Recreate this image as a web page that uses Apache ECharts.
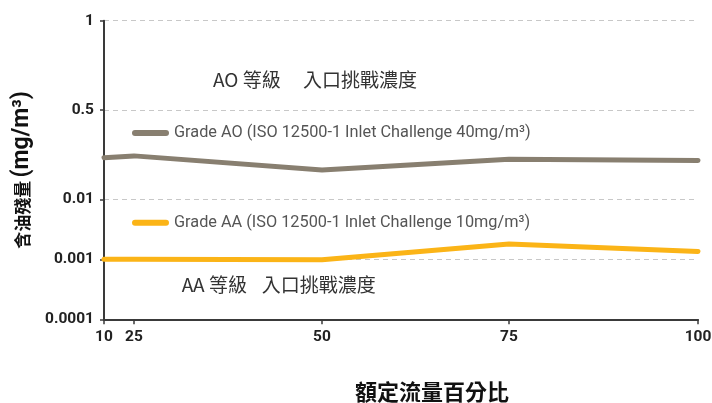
<!DOCTYPE html>
<html>
<head>
<meta charset="utf-8">
<script src="https://cdn.jsdelivr.net/npm/echarts@6/dist/echarts.min.js"></script>
<style>
  html, body { margin: 0; padding: 0; background: #ffffff; }
  #chart { width: 712px; height: 403px; }
</style>
</head>
<body>
<div id="chart"></div>
<script>
// ---- data ----
const flowPct = [10, 25, 50, 75, 100];
const gradeAO = [0.062, 0.067, 0.036, 0.058, 0.055];
const gradeAA = [0.001, 0.001, 0.00098, 0.0018, 0.00135];
const xTickValues = [10, 25, 50, 75, 100];
const yTickValues = [0.0001, 0.001, 0.01, 0.5, 1];
const yTickLabels = ['0.0001', '0.001', '0.01', '0.5', '1'];
const seriesNames = [
  'Grade AO (ISO 12500-1 Inlet Challenge 40mg/m³)',
  'Grade AA (ISO 12500-1 Inlet Challenge 10mg/m³)'
];
const xAxisTitle = '額定流量百分比';
const yAxisTitleCJK = '含油殘量';
const yAxisTitleUnit = '(mg/m³)';
const noteGradeAO = 'AO 等級';
const noteGradeAA = 'AA 等級';
const noteInlet = '入口挑戰濃度';

// ---- non-uniform axis layout (the original axes are not linear) ----
const xAxisStops = [0, 30, 218, 405, 594];
const yAxisStops = [0, 60, 120, 209.3, 298.6];

function xPos(v) {
  for (let i = 0; i < xTickValues.length - 1; i++) {
    const a = xTickValues[i], b = xTickValues[i + 1];
    if (v <= b || i === xTickValues.length - 2) {
      return xAxisStops[i] + (v - a) / (b - a) * (xAxisStops[i + 1] - xAxisStops[i]);
    }
  }
}
function yPos(v) {
  const lv = Math.log10(v);
  for (let i = 0; i < yTickValues.length - 1; i++) {
    const a = Math.log10(yTickValues[i]), b = Math.log10(yTickValues[i + 1]);
    if (lv <= b || i === yTickValues.length - 2) {
      return yAxisStops[i] + (lv - a) / (b - a) * (yAxisStops[i + 1] - yAxisStops[i]);
    }
  }
}
function idxOf(arr, v) {
  for (let i = 0; i < arr.length; i++) if (Math.abs(arr[i] - v) < 0.01) return i;
  return -1;
}

const chart = echarts.init(document.getElementById('chart'), null, { renderer: 'canvas' });
const capsule = 'path://M3,0 L34,0 A3,3 0 0 1 34,6 L3,6 A3,3 0 0 1 3,0 Z';
const legendText = { fontFamily: 'Roboto', fontSize: 16.3, color: '#555555' };
const axisColor = '#3a3a3a';

chart.setOption({
  animation: false,
  backgroundColor: '#ffffff',
  grid: { left: 104, right: 14, top: 20.7, bottom: 83.7, containLabel: false, outerBoundsMode: 'none' },
  legend: [
    { data: [seriesNames[0]], left: 132, top: 125, orient: 'vertical', padding: 0,
      itemWidth: 37, itemHeight: 6, icon: capsule, selectedMode: false,
      textStyle: Object.assign({ lineHeight: 16 }, legendText) },
    { data: [seriesNames[1]], left: 132, top: 214.7, orient: 'vertical', padding: 0,
      itemWidth: 37, itemHeight: 6, icon: capsule, selectedMode: false,
      textStyle: Object.assign({ lineHeight: 16 }, legendText) }
  ],
  xAxis: {
    type: 'value', min: 0, max: xAxisStops[xAxisStops.length - 1],
    name: xAxisTitle, nameLocation: 'middle', nameGap: 61,
    nameTextStyle: { fontFamily: 'Noto Sans CJK TC', fontWeight: 'bold', fontSize: 22, color: '#111111', padding: [0, 0, 0, 62] },
    axisLine: { show: true, lineStyle: { color: axisColor, width: 2 } },
    axisTick: { show: true, length: 5, customValues: xAxisStops, lineStyle: { color: axisColor, width: 1.5 } },
    axisLabel: {
      customValues: xAxisStops, margin: 10,
      fontFamily: 'Roboto', fontWeight: 'bold', fontSize: 15.5, color: '#222222',
      formatter: v => { const i = idxOf(xAxisStops, v); return i >= 0 ? String(xTickValues[i]) : ''; }
    },
    splitLine: { show: false }
  },
  yAxis: {
    type: 'value', min: 0, max: yAxisStops[yAxisStops.length - 1],
    name: '{a|' + yAxisTitleCJK + '} {b|' + yAxisTitleUnit + '}',
    nameLocation: 'middle', nameGap: 68, nameRotate: 90,
    nameTextStyle: {
      color: '#111111',
      rich: {
        a: { fontFamily: 'Noto Sans CJK TC', fontWeight: 'bold', fontSize: 17, color: '#111111' },
        b: { fontFamily: 'Roboto', fontWeight: 'bold', fontSize: 23, color: '#111111' }
      }
    },
    axisLine: { show: true, lineStyle: { color: axisColor, width: 2 } },
    axisTick: { show: true, length: 4, customValues: yAxisStops, lineStyle: { color: axisColor, width: 1.5 } },
    axisLabel: {
      customValues: yAxisStops, margin: 10,
      fontFamily: 'Roboto', fontWeight: 'bold', fontSize: 15.5, color: '#222222',
      formatter: v => { const i = idxOf(yAxisStops, v); return i >= 0 ? yTickLabels[i] : ''; }
    },
    splitLine: { show: true, lineStyle: { color: '#c8c8c8', width: 1, type: [5, 4] } }
  },
  graphic: [
    { type: 'text', left: 213, top: 81.7 - 11, style: { text: noteGradeAO, font: '19px "Noto Sans CJK TC"', fill: '#333333' } },
    { type: 'text', left: 303, top: 81.7 - 11, style: { text: noteInlet, font: '19px "Noto Sans CJK TC"', fill: '#333333' } },
    { type: 'text', left: 181.7, top: 286 - 11, style: { text: noteGradeAA, font: '19px "Noto Sans CJK TC"', fill: '#333333' } },
    { type: 'text', left: 261.7, top: 286 - 11, style: { text: noteInlet, font: '19px "Noto Sans CJK TC"', fill: '#333333' } }
  ],
  series: [
    {
      name: seriesNames[0], type: 'line', symbol: 'none', z: 3,
      itemStyle: { color: '#887f70' },
      lineStyle: { color: '#887f70', width: 5, cap: 'round', join: 'round' },
      data: flowPct.map((x, i) => [xPos(x), yPos(gradeAO[i])])
    },
    {
      name: seriesNames[1], type: 'line', symbol: 'none', z: 3,
      itemStyle: { color: '#fbb417' },
      lineStyle: { color: '#fbb417', width: 5, cap: 'round', join: 'round' },
      data: flowPct.map((x, i) => [xPos(x), yPos(gradeAA[i])])
    }
  ]
});
</script>
</body>
</html>
